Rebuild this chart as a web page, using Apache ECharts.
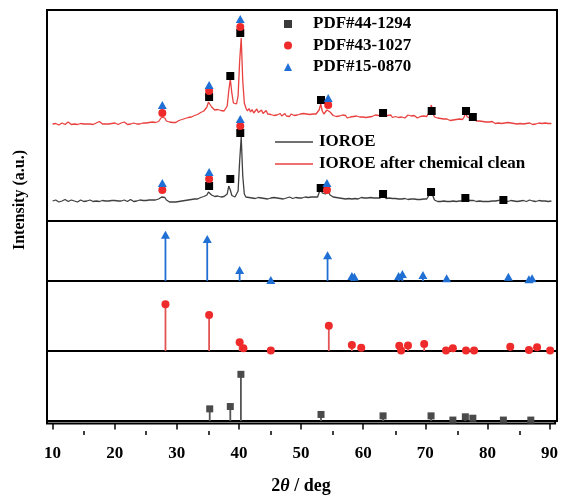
<!DOCTYPE html>
<html>
<head>
<meta charset="utf-8">
<script src="https://cdn.jsdelivr.net/npm/echarts@6/dist/echarts.min.js"></script>
<style>
  html, body { margin: 0; padding: 0; background: #fff; }
  #chart { width: 561px; height: 495px; }
</style>
</head>
<body>
<div id="chart"></div>
<script>
// XRD scans: uniform 2θ sampling from 10° to 90° in 0.25° steps
const SCAN_START = 10;
const SCAN_STEP = 0.25;

// IOROE (offset baseline ~20 a.u.)
const ioroe = [
  20,19.5,21,20,19,20.5,20,19.5,21.5,20,19.5,20,21,19.5,20,20.5,19,20,21,20,
  19.5,20.5,20,19,21,20,19.5,20.5,20,21.5,19.5,20,20.5,19,20,21,20,19.5,20.5,20,
  20.5,19.5,20,21,20,19.5,21,20.5,19.5,20,21.5,20,19.5,20.5,20,19.5,21,20,20.5,20,
  20.5,20,21,20.5,21,20.5,21,21.5,22,22.5,24,26,23.5,21,19.5,19,18.5,19,18.5,19,
  19,19.5,19,20,19.5,20.5,20,21,20.5,21.5,21,22,22.5,22,23,23.5,23,24.5,25,26,
  29,28.5,26,25,24.5,24,25,24.5,24,25,24.5,24,27,35,31,25.5,24,24,24.5,30,
  60,84,45,27,24,23,23.5,22.5,23,24,22.5,23,23.5,22,23,24,22.5,23,22,23.5,
  23,22,23.5,22.5,23,24,22.5,23,22,23.5,23,22.5,24,23,22.5,23,23.5,22,23,23.5,
  23,22.5,24,23,23.5,22.5,24,23,24,23.5,24,26,33,28,26.5,27,28.5,29,26,24.5,
  24,23,23.5,22.5,23,24,22.5,23,22,23.5,22.5,23,22,23.5,22.5,23,22,22.5,23.5,22.5,
  23,22,23,22.5,23.5,22,23,22.5,23,22,23,24,25.5,24,22.5,22,23,21.5,22.5,22,
  22.5,21.5,22,23,22,21.5,22.5,22,21.5,22.5,22,21.5,22,22.5,21.5,22,21.5,22.5,22,21.5,
  22,23,27,31,25,21,20,19.5,20,19.5,19.5,20,19.5,19.5,20,19.5,19.5,20,19.5,19.5,
  19.5,20,19.5,20,21,24,21,20.5,20.5,22,20.5,20,19.5,19.5,20,19.5,19.5,20,19.5,19.5,
  19.5,19.5,20,19.5,20,19.5,20.5,20,21.5,23,21,20,19.5,20,20.5,19.5,20,20.5,19.5,20,
  20,19.5,20.5,20,19.5,20.5,21,19.5,20,20.5,19.5,20,20.5,19.5,20,19.5,20,20.5,19.5,20,
  20
];

// IOROE after chemical clean (offset baseline ~97 a.u.)
const ioroeCleaned = [
  97,96.5,97.5,97,96,97,98,97,96.5,97,99,97,96.5,97.5,97,98,96.5,97,97.5,99,
  97,96,97,98.5,97,97,96.5,97,98,97,99.5,97.5,97,96.5,97,98,97,96.5,97.5,97,
  98,97,96.5,97.5,98,97,99,97,96.5,98,97,97.5,98,96.5,97,98.5,97,97.5,98,97,
  98,97.5,98.5,98,99,98,98.5,99,99.5,100,104,106,103,100,98.5,99,98,98.5,99,98.5,
  99.5,100.5,99.5,101.5,100.5,102.5,101.5,103.5,102.5,104,103.5,105.5,105,106.5,107,108.5,108,110,111,114,
  119,118,114,112,111,110.5,111.5,109.5,110.5,111,110,111,115,130,142,128,118,116,117,125,
  160,183,140,118,113,110,112.5,109,111.5,108,110,112,108.5,109,111,107.5,108.5,110.5,107,109,
  106.5,108,105.5,107,106,104.5,107.5,105,106,107.5,105,106.5,104.5,107,106,105.5,107.5,106,105,107,
  106,107.5,105.5,107,108,106.5,108,107,108.5,107,107.5,111,117,110,107,108,111,113,109,107,
  105.5,107,104.5,106,105,103.5,106,104.5,105.5,103,105,104,102.5,104.5,103.5,105,103,104,102.5,104,
  105,103.5,105.5,104,106,104.5,105,106,104.5,105.5,106,107,108,105.5,104.5,105.5,104,106,103.5,105,
  104.5,106,103.5,105,104,105.5,103,104.5,106,104,105,103.5,105.5,104,103,105,104.5,103.5,105,104,
  104.5,106,110,116,108,104,102,103,101,102.5,101,102,100.5,102,101.5,100.5,102,101,100,101.5,
  101,102,100.5,101.5,104,108,104,102,103,105,103,101,100,99,100,98.5,99.5,98,99,98.5,
  99,98,99.5,98.5,97.5,99,98,98.5,97.5,99,98,97,98.5,97.5,98,99,97.5,98,97,98.5,
  97.5,98,97,98.5,97.5,97,98,97.5,96.5,98,97,97.5,98,96.5,97.5,97,98,97,97.5,97,
  97.5
];

// Phase markers placed above the indexed peaks of both scans: [2θ, height]
const peaksPdf441294 = [
  [35.1,124],[38.5,145],[40.1,188],[53.05,121],[63.0,108],[70.8,110],[76.3,110],[77.4,104],
  [35.1,35],[38.5,42],[40.1,88],[53.0,33],[63.0,27],[70.7,29],[76.2,23],[82.3,21]
];
const peaksPdf431027 = [
  [27.6,108],[35.1,130],[40.1,194],[54.2,116],
  [27.6,31],[35.1,42],[40.1,95],[54.0,31]
];
const peaksPdf150870 = [
  [27.6,116],[35.1,136],[40.1,202],[54.2,123],
  [27.6,38],[35.1,49],[40.1,102],[54.0,38]
];

// Reference patterns: [2θ, relative intensity]
const refPdf150870 = [
  [28.1,100],[34.8,91],[40.0,24],[45.0,2],[54.1,56],[58.0,11],[58.4,9],
  [65.5,11],[66.1,15],[69.4,13],[73.2,6],[83.1,9],[86.4,4],[86.9,6]
];
const refPdf431027 = [
  [28.1,100],[35.1,77],[40.0,19],[40.6,6],[45.0,1],[54.3,54],[58.0,13],[59.5,7],
  [65.6,11],[65.9,1],[67.0,12],[69.6,15],[73.1,1],[74.2,6],[76.3,1],[77.6,1],
  [83.4,9],[86.4,2],[87.7,8],[89.8,1]
];
const refPdf441294 = [
  [35.2,26],[38.5,31],[40.2,100],[53.05,14],[63.0,11],[70.7,11],[74.2,2],
  [76.2,9],[77.4,6],[82.3,2],[86.7,2]
];

const majorTicks = [10, 20, 30, 40, 50, 60, 70, 80, 90];
const minorTicks = [15, 25, 35, 45, 55, 65, 75, 85];

const NAME_IOROE = 'IOROE';
const NAME_CLEAN = 'IOROE after chemical clean';
const NAME_A = 'PDF#44-1294';
const NAME_B = 'PDF#43-1027';
const NAME_C = 'PDF#15-0870';

const toXY = (vals) => vals.map((v, i) => [SCAN_START + i * SCAN_STEP, v]);

const SERIF = '"Liberation Serif", "Times New Roman", serif';
const C_RED = '#e8413f';
const C_GRAY = '#404040';
const C_BLUE = '#1f6fd4';
const C_MRED = '#ee2a2a';

const X_MIN = 9.1, X_MAX = 90.9;
const PLOT_LEFT = 47, PLOT_RIGHT = 4;

const panels = [
  { top: 10, height: 211 },
  { top: 221, height: 60 },
  { top: 281, height: 70 },
  { top: 351, height: 70 },
  { top: 421, height: 10 },
  { top: 421, height: 10 }
];

const grid = panels.map((p, i) => ({
  left: PLOT_LEFT, right: PLOT_RIGHT, top: p.top, height: p.height,
  show: i < 5, borderColor: '#000', borderWidth: 2, backgroundColor: 'transparent'
}));

const hiddenX = (gi) => ({ gridIndex: gi, type: 'value', min: X_MIN, max: X_MAX, show: false });
const xAxis = [
  hiddenX(0), hiddenX(1), hiddenX(2), hiddenX(3),
  {
    gridIndex: 4, type: 'value', min: X_MIN, max: X_MAX, position: 'bottom',
    axisLine: { show: false },
    splitLine: { show: false },
    axisTick: { show: true, customValues: majorTicks, length: 6, inside: false,
      lineStyle: { color: '#000', width: 1.5 } },
    axisLabel: { show: true, customValues: majorTicks, margin: 22,
      fontFamily: SERIF, fontWeight: 'bold', fontSize: 17, color: '#000' },
    name: '{n|2}{t|θ}{n| / deg}',
    nameLocation: 'middle', nameGap: 54,
    nameTextStyle: {
      rich: {
        n: { fontFamily: SERIF, fontWeight: 'bold', fontSize: 18, color: '#000' },
        t: { fontFamily: SERIF, fontWeight: 'bold', fontStyle: 'italic', fontSize: 18, color: '#000' }
      }
    }
  },
  {
    gridIndex: 5, type: 'value', min: X_MIN, max: X_MAX, position: 'bottom',
    axisLine: { show: false }, splitLine: { show: false }, axisLabel: { show: false },
    axisTick: { show: true, customValues: minorTicks, length: 4, inside: false,
      lineStyle: { color: '#000', width: 1.5 } }
  }
];

const yRanges = [[0, 211], [0, 130], [0, 150], [0, 150], [0, 1], [0, 1]];
const yAxis = yRanges.map((r, i) => ({
  gridIndex: i, type: 'value', min: r[0], max: r[1], show: false
}));

const markerSeries = (name, data, symbol, size, color) => ({
  name, type: 'scatter', xAxisIndex: 0, yAxisIndex: 0, data,
  symbol, symbolSize: size, itemStyle: { color, opacity: 1 }, z: 5, silent: true
});

const stickSeries = (gi, name, data, symbol, size, stemColor, markColor) => [
  {
    name, type: 'bar', xAxisIndex: gi, yAxisIndex: gi, data,
    barWidth: 1.8, itemStyle: { color: stemColor }, silent: true
  },
  {
    name, type: 'scatter', xAxisIndex: gi, yAxisIndex: gi, data,
    symbol, symbolSize: size, itemStyle: { color: markColor, opacity: 1 }, z: 5, silent: true
  }
];

const option = {
  animation: false,
  backgroundColor: '#fff',
  grid, xAxis, yAxis,
  legend: [
    {
      orient: 'vertical', left: 279, top: 9, itemGap: 1.5,
      itemWidth: 8, itemHeight: 8,
      textStyle: { fontFamily: SERIF, fontWeight: 'bold', fontSize: 17, color: '#000',
        lineHeight: 20, padding: [0, 0, 0, 16] },
      selectedMode: false,
      data: [
        { name: NAME_A, icon: 'rect', itemStyle: { color: '#3a3a3a' } },
        { name: NAME_B, icon: 'circle', itemStyle: { color: C_MRED } },
        { name: NAME_C, icon: 'triangle', itemStyle: { color: C_BLUE } }
      ]
    },
    {
      orient: 'vertical', left: 270, top: 127, itemGap: 2,
      itemWidth: 38, itemHeight: 1.5,
      textStyle: { fontFamily: SERIF, fontWeight: 'bold', fontSize: 17, color: '#000',
        lineHeight: 20, padding: [0, 0, 0, 1] },
      selectedMode: false,
      data: [
        { name: NAME_IOROE, icon: 'rect', itemStyle: { color: C_GRAY } },
        { name: NAME_CLEAN, icon: 'rect', itemStyle: { color: C_RED } }
      ]
    }
  ],
  graphic: [
    {
      type: 'text', x: 20, y: 200, rotation: Math.PI / 2,
      style: { text: 'Intensity (a.u.)', fontFamily: SERIF, fontWeight: 'bold', fontSize: 16,
        fill: '#000', align: 'center', verticalAlign: 'middle' }
    }
  ],
  series: [
    {
      name: NAME_IOROE, type: 'line', xAxisIndex: 0, yAxisIndex: 0, data: toXY(ioroe),
      showSymbol: false, symbol: 'none', lineStyle: { color: C_GRAY, width: 1.3 },
      itemStyle: { color: C_GRAY }, silent: true
    },
    {
      name: NAME_CLEAN, type: 'line', xAxisIndex: 0, yAxisIndex: 0, data: toXY(ioroeCleaned),
      showSymbol: false, symbol: 'none', lineStyle: { color: C_RED, width: 1.3 },
      itemStyle: { color: C_RED }, silent: true
    },
    markerSeries(NAME_A, peaksPdf441294, 'rect', 8, '#000'),
    markerSeries(NAME_B, peaksPdf431027, 'circle', 8, C_MRED),
    markerSeries(NAME_C, peaksPdf150870, 'triangle', [9, 8], C_BLUE),
    ...stickSeries(1, NAME_C, refPdf150870, 'triangle', [9, 8], C_BLUE, C_BLUE),
    ...stickSeries(2, NAME_B, refPdf431027, 'circle', 8, '#e25555', C_MRED),
    ...stickSeries(3, NAME_A, refPdf441294, 'rect', 7, '#555', '#4a4a4a')
  ]
};

const chart = echarts.init(document.getElementById('chart'), null, { renderer: 'canvas' });
chart.setOption(option);
</script>
</body>
</html>
